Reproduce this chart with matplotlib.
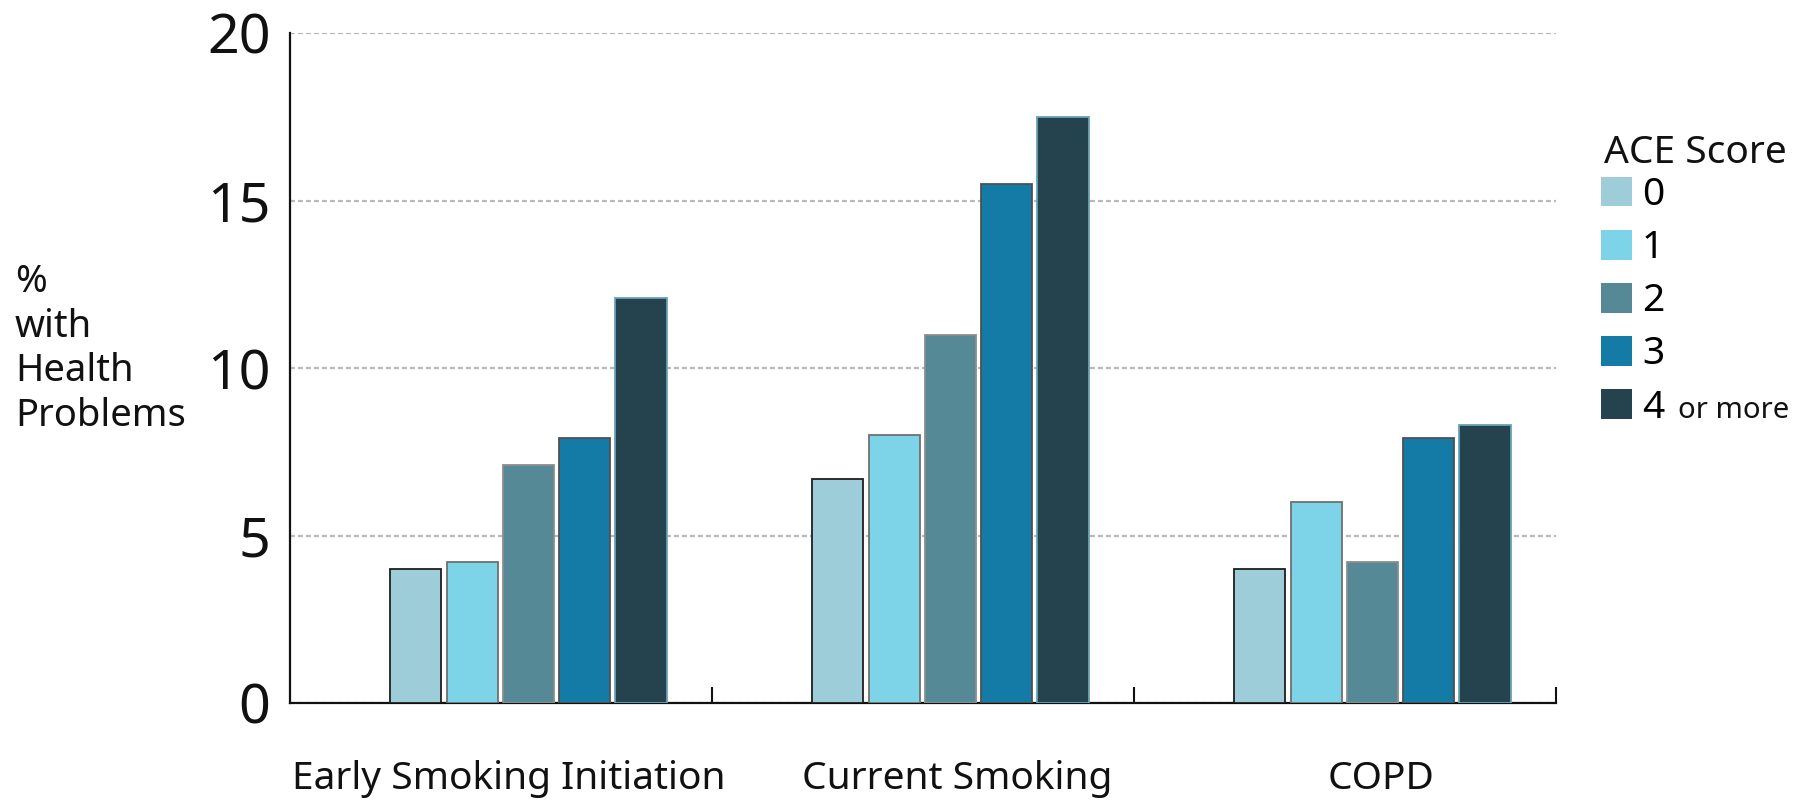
import matplotlib
matplotlib.use("Agg")
import matplotlib.pyplot as plt
from matplotlib.patches import Patch
from matplotlib.font_manager import FontProperties
import numpy as np

# ---- data ----
categories = ["Early Smoking Initiation", "Current Smoking", "COPD"]
ace_title = "ACE Score"
ace_labels = ["0", "1", "2", "3", "4"]
ace_last_suffix = "or more"
score_0 = [4.0, 6.7, 4.0]
score_1 = [4.2, 8.0, 6.0]
score_2 = [7.1, 11.0, 4.2]
score_3 = [7.9, 15.5, 7.9]
score_4 = [12.1, 17.5, 8.3]
series = [score_0, score_1, score_2, score_3, score_4]
y_ticks = [0, 5, 10, 15, 20]

colors = ["#9dcdd8", "#7dd3e8", "#558996", "#137ba5", "#24434f"]
edges = ["#1e1e1e", "#707070", "#8c8c8c", "#505050", "#6aa2b4"]

plt.rcParams["font.family"] = ["Noto Sans", "DejaVu Sans"]

W, H = 1798, 802
fig = plt.figure(figsize=(W / 100, H / 100), dpi=100)
fig.patch.set_facecolor("white")
ax = fig.add_axes([290 / W, 1 - 703 / H, (1556 - 290) / W, (703 - 33) / H])
ax.set_facecolor("none")

n = len(series)
pitch = 0.1334
width = 0.121
offset = 0.065
base = np.arange(len(categories)) + 0.5 + offset
for k, vals in enumerate(series):
    xs = base + (k - (n - 1) / 2) * pitch
    ax.bar(xs, vals, width=width, color=colors[k], edgecolor=edges[k],
           linewidth=1.3, zorder=3)

ax.set_xlim(0, len(categories))
ax.set_ylim(0, 20)
ax.set_yticks(y_ticks)
ax.set_yticklabels([str(t) for t in y_ticks])
ax.yaxis.grid(True, color="#b8b8b8", linestyle=(0, (2.2, 1.4)), linewidth=1.6, zorder=0)
ax.set_axisbelow(True)

# major ticks at category boundaries (marks only), minor ticks under the groups (labels)
label_shift = np.array([-0.046, 0.017, 0.021])
ax.set_xticks(np.arange(1, len(categories) + 1))
ax.set_xticklabels([])
ax.set_xticks(base + label_shift, minor=True)
ax.set_xticklabels(categories, minor=True)
ax.tick_params(axis="x", which="major", direction="in", length=11.5, width=1.5, color="#111111")
ax.tick_params(axis="x", which="minor", length=0, pad=41, labelsize=28, labelcolor="#111111")
ax.tick_params(axis="y", length=0, pad=14, labelsize=40, labelcolor="#111111")

for s in ["top", "right"]:
    ax.spines[s].set_visible(False)
for s in ["left", "bottom"]:
    ax.spines[s].set_linewidth(1.6)
    ax.spines[s].set_color("#111111")

fig.text(15 / W, 1 - 349 / H, "%\nwith\nHealth\nProblems", ha="left", va="center",
         fontsize=27.5, color="#111111", linespacing=1.22)

# legend: title as text, entries as legend
fig.text(1604 / W, 1 - 163 / H, ace_title, ha="left", va="baseline",
         fontsize=28, color="#111111")
handles = [Patch(facecolor=c, edgecolor="none") for c in colors]
leg = fig.legend(handles, ace_labels, loc="upper left",
                 bbox_to_anchor=(1601 / W, 1 - 176 / H), frameon=False,
                 fontsize=28, handlelength=0.8, handleheight=0.8,
                 handletextpad=0.25, labelspacing=0.39, borderpad=0, borderaxespad=0)

# suffix "or more" after the last legend label, in a smaller size
fig.canvas.draw()
renderer = fig.canvas.get_renderer()
last = leg.get_texts()[-1]
bb = last.get_window_extent(renderer)
fp = FontProperties(family=["Noto Sans", "DejaVu Sans"], size=28)
_, _, desc = renderer.get_text_width_height_descent("lp", fp, ismath=False)
baseline_y = bb.y0 + desc
fig.text((bb.x1 + 14) / W, baseline_y / H, ace_last_suffix, ha="left", va="baseline",
         fontsize=21, color="#111111")

fig.savefig("out.png", dpi=100)
